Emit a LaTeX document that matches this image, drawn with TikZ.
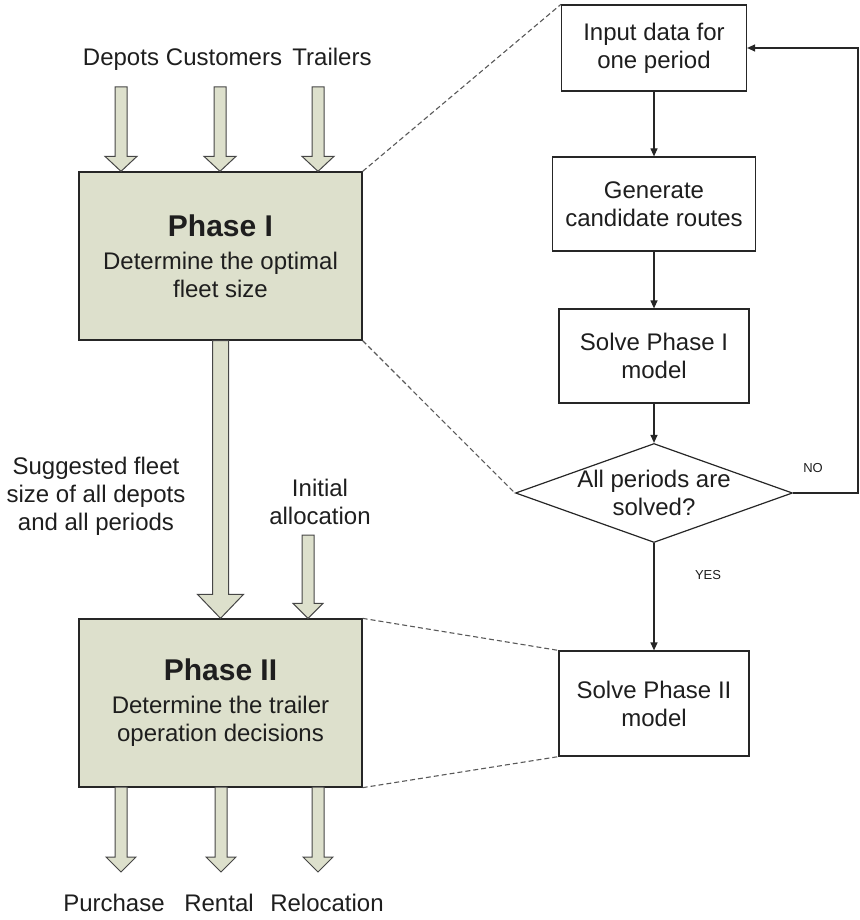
\documentclass[tikz,border=0pt]{standalone}
\usepackage{fontspec}
\setmainfont{Liberation Sans}
\usetikzlibrary{arrows.meta,calc,shapes.geometric}
\definecolor{phasefill}{RGB}{221,224,204}
\definecolor{fatedge}{RGB}{70,70,70}
\definecolor{inktext}{RGB}{30,30,30}
% wide hollow arrow: start, tip, half shaft width, half head width, head length
\newcommand{\fatarrow}[5]{%
  \path[fatarrow] let \p1=(#1), \p2=(#2) in
    (\x1-#3,\y1) -- (\x1-#3,\y2+#5) -- (\x1-#4,\y2+#5) -- (\x1,\y2)
    -- (\x1+#4,\y2+#5) -- (\x1+#3,\y2+#5) -- (\x1+#3,\y1) -- cycle;}
\begin{document}
\begin{tikzpicture}[x=1pt,y=-1pt,
  every node/.style={font=\fontsize{24}{28}\selectfont, text=inktext},
  phase/.style={draw=black!85, line width=1.3pt, fill=phasefill,
    minimum width=283pt, minimum height=168pt, align=center, inner sep=0pt},
  stepbox/.style={draw=black!85, line width=1.2pt, align=center, inner sep=0pt},
  fatarrow/.style={draw=fatedge, line width=1pt, fill=phasefill},
  flow/.style={draw=black!85, line width=1.2pt, -{Triangle[length=8pt,width=7pt]}},
  link/.style={draw=black!65, line width=1.1pt, dash pattern=on 5pt off 3pt},
  tag/.style={font=\fontsize{13}{15}\selectfont},
  label/.style={align=center, inner sep=0pt}]
\useasboundingbox (0,0) rectangle (859,920);

% ---------- left column: the two phases ----------
\node[phase] (p1) at (220.5,256)
  {{\fontsize{30}{34}\selectfont\bfseries Phase I}\\[5pt]
   Determine the optimal\\ fleet size};
\node[phase] (p2) at (220.5,703)
  {{\fontsize{30}{34}\selectfont\bfseries Phase II}\\[5pt]
   Determine the trailer\\ operation decisions};

% inputs
\node[label, anchor=base] (depots)    at (121,65.5) {Depots};
\node[label, anchor=base] (customers) at (224,65.5) {Customers};
\node[label, anchor=base] (trailers)  at (332,65.5) {Trailers};
\coordinate (inA) at (121,87);
\coordinate (inB) at (220,87);
\coordinate (inC) at (318,87);
\fatarrow{inA}{inA |- p1.north}{6pt}{16pt}{15pt}
\fatarrow{inB}{inB |- p1.north}{6pt}{16pt}{15pt}
\fatarrow{inC}{inC |- p1.north}{6pt}{16pt}{15pt}

% between the phases
\node[label] (fleet) at (96,496) {Suggested fleet\\ size of all depots\\ and all periods};
\node[label] (alloc) at (320,502) {Initial\\ allocation};
\coordinate (bigA) at (p1.south);
\coordinate (allocA) at (308,535);
\fatarrow{bigA}{p2.north}{8pt}{23pt}{24pt}
\fatarrow{allocA}{allocA |- p2.north}{6pt}{15pt}{15pt}

% outputs
\coordinate (outA) at (121,787);
\coordinate (outB) at (221,787);
\coordinate (outC) at (318,787);
\coordinate (tipA) at (121,872);
\coordinate (tipB) at (221,872);
\coordinate (tipC) at (318,872);
\fatarrow{outA}{tipA}{6pt}{15pt}{15pt}
\fatarrow{outB}{tipB}{6pt}{15pt}{15pt}
\fatarrow{outC}{tipC}{6pt}{15pt}{15pt}
\node[label] (purchase)   at (114,903) {Purchase};
\node[label] (rental)     at (219,903) {Rental};
\node[label] (relocation) at (327,903) {Relocation};

% ---------- right column: solution procedure ----------
\node[stepbox, minimum width=185pt, minimum height=86pt] (input) at (654,48)
  {Input data for\\ one period};
\node[stepbox, minimum width=203pt, minimum height=94pt] (gen) at (654,204)
  {Generate\\ candidate routes};
\node[stepbox, minimum width=190pt, minimum height=94pt] (s1) at (654,356)
  {Solve Phase I\\ model};
\node[diamond, draw=black!85, line width=1.2pt, inner sep=0pt,
      minimum width=277pt, minimum height=99pt] (dec) at (654,493) {};
\node[label] (dectext) at (dec.center) {All periods are\\ solved?};
\node[stepbox, minimum width=190pt, minimum height=105pt] (s2) at (654,703.5)
  {Solve Phase II\\ model};

\draw[flow] (input) -- (gen);
\draw[flow] (gen) -- (s1);
\draw[flow] (s1) -- (dec);
\draw[flow] (dec) -- (s2);
\coordinate (loop) at (858,48);
\draw[flow] (dec.east) -| (loop) -- (input.east);
\node[tag] (no)  at (813,468) {NO};
\node[tag] (yes) at (708,575) {YES};

% links between the phases and their procedures
\draw[link] (p1.north east) -- (input.north west);
\draw[link] (p1.south east) -- (dec.west);
\draw[link] (p2.north east) -- (s2.north west);
\draw[link] (p2.south east) -- (s2.south west);
\end{tikzpicture}
\end{document}
